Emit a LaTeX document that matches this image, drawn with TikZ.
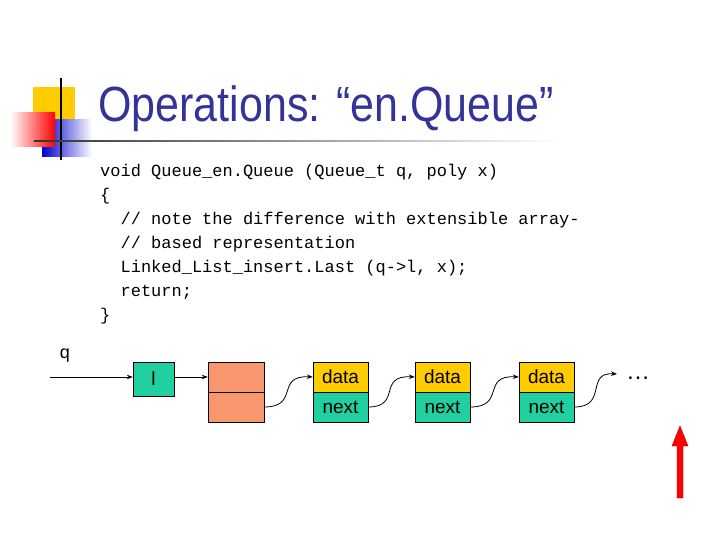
\documentclass[tikz,border=0pt]{standalone}
\usepackage{fontspec}
\setmainfont{Liberation Sans}
\newfontfamily\codefont{Liberation Mono}
\usetikzlibrary{arrows.meta,positioning}
\definecolor{titleblue}{RGB}{51,51,153}
\definecolor{cellgreen}{RGB}{32,208,160}
\definecolor{cellorange}{RGB}{250,150,110}
\definecolor{cellyellow}{RGB}{255,204,0}
\tikzset{
  cell/.style={draw, minimum width=55pt, minimum height=30pt, inner sep=0pt, font=\fontsize{19}{19}\selectfont},
  link/.style={-{Stealth[length=6pt]}, thick},
  codeline/.style={anchor=west, inner sep=0pt, font=\codefont\fontsize{17}{17}\selectfont}
}
\begin{document}
\begin{tikzpicture}[x=1pt, y=-1pt]
  \useasboundingbox (0,0) rectangle (720,540);
  % logo
  \fill[cellyellow] (33,87) rectangle (75,125);
  \shade[left color=blue!80!black, right color=white] (42,120) rectangle (92,157);
  \shade[left color=white, right color=red] (10,113) rectangle (55,147);
  \draw[line width=2pt] (61,78) -- (61,160);
  \shade[left color=black!80, right color=white] (34,140.5) rectangle (560,142);
  % title
  \node[anchor=base west, inner sep=0pt, text=titleblue, yscale=1.15, font=\fontsize{43}{43}\selectfont] (title) at (98,122) {Operations: “en.Queue”};
  % code
  \node[codeline] (c1) at (100,172) {void Queue\_en.Queue (Queue\_t q, poly x)};
  \node[codeline] (c2) at (100,196) {\{};
  \node[codeline] (c3) at (100,220) {\ \ // note the difference with extensible array-};
  \node[codeline] (c4) at (100,244) {\ \ // based representation};
  \node[codeline] (c5) at (100,268) {\ \ Linked\_List\_insert.Last (q->l, x);};
  \node[codeline] (c6) at (100,292) {\ \ return;};
  \node[codeline] (c7) at (100,316) {\}};
  % list
  \coordinate (qin) at (50,377);
  \node[font=\fontsize{18}{18}\selectfont] (q) at (65,356) {q};
  \node[cell, fill=cellgreen, minimum width=41pt, minimum height=34pt] (l) at (153.5,379) {l};
  \node[cell, fill=cellorange, minimum width=56pt] (h1) at (236,377) {};
  \node[cell, fill=cellorange, minimum width=56pt] (h2) at (236,407) {};
  \foreach \i/\x in {1/340.5, 2/442.5, 3/546.5} {
    \node[cell, fill=cellyellow] (d\i) at (\x,377) {data};
    \node[cell, fill=cellgreen] (n\i) at (\x,407) {next};
  }
  \node[font=\fontsize{24}{24}\selectfont] (dots) at (638,378) {\dots};
  \coordinate (tail) at (617,374);
  \draw[link] (qin) -- (qin -| l.west);
  \draw[link] (l.east |- h1.west) -- (h1.west);
  \draw[link] (h2.east) .. controls (300,407) and (275,375) .. (d1.west);
  \draw[link] (n1.east) .. controls (402,407) and (377,375) .. (d2.west);
  \draw[link] (n2.east) .. controls (506,407) and (481,375) .. (d3.west);
  \draw[link] (n3.east) .. controls (608,407) and (585,372) .. (tail);
  % red arrow
  \draw[fill=red, draw=red!70!black] (677,498) -- (677,446) -- (672,446) -- (680,426) -- (688,446) -- (683,446) -- (683,498) -- cycle;
\end{tikzpicture}
\end{document}
